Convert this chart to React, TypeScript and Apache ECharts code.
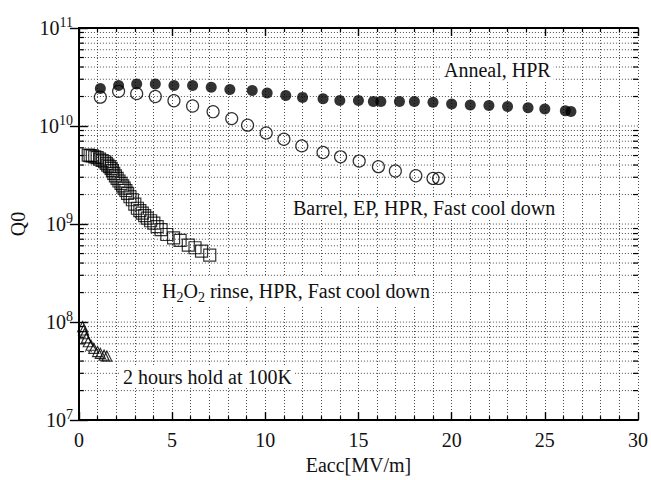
import React, { useEffect, useRef } from "react";
import * as echarts from "echarts";

const FONT = "Liberation Serif";

// Anneal, HPR (filled circles)
const annealX = [1.15, 2.13, 3.1, 4.1, 5.1, 6.1, 7.1, 8.1, 9.3, 10.1, 11.1, 12.0, 13.1, 14.0, 15.0, 15.8, 16.2, 17.2, 18.0, 19.0, 20.0, 21.0, 22.0, 23.0, 24.1, 25.0, 26.1, 26.4];
const annealQ = [2.41e10, 2.59e10, 2.69e10, 2.69e10, 2.59e10, 2.59e10, 2.49e10, 2.36e10, 2.30e10, 2.17e10, 2.05e10, 1.96e10, 1.90e10, 1.82e10, 1.82e10, 1.78e10, 1.78e10, 1.78e10, 1.78e10, 1.75e10, 1.68e10, 1.64e10, 1.62e10, 1.58e10, 1.54e10, 1.49e10, 1.43e10, 1.41e10];

// Barrel, EP, HPR, Fast cool down (open circles)
const barrelX = [1.15, 2.13, 3.1, 4.1, 5.1, 6.1, 7.2, 8.2, 9.05, 10.05, 11.0, 11.96, 13.1, 14.04, 15.04, 16.07, 16.98, 18.08, 19.0, 19.3];
const barrelQ = [1.97e10, 2.26e10, 2.14e10, 2.0e10, 1.81e10, 1.6e10, 1.4e10, 1.19e10, 1.02e10, 8.5e9, 7.33e9, 6.27e9, 5.37e9, 4.85e9, 4.39e9, 3.85e9, 3.48e9, 3.11e9, 2.92e9, 2.92e9];

// H2O2 rinse, HPR, Fast cool down (open squares)
const rinseX = [0.5, 0.6, 0.72, 0.85, 0.98, 1.11, 1.25, 1.38, 1.47, 1.55, 1.64, 1.73, 1.8, 1.87, 1.96, 2.05, 2.15, 2.26, 2.35, 2.43, 2.52, 2.61, 2.74, 2.87, 3.0, 3.14, 3.27, 3.4, 3.53, 3.67, 3.85, 4.02, 4.2, 4.41, 4.72, 5.08, 5.43, 5.87, 6.23, 6.58, 7.02];
const rinseQ = [5.05e9, 5.0e9, 4.95e9, 4.85e9, 4.75e9, 4.6e9, 4.45e9, 4.32e9, 4.15e9, 4.0e9, 3.85e9, 3.69e9, 3.5e9, 3.29e9, 3.1e9, 2.92e9, 2.75e9, 2.6e9, 2.45e9, 2.32e9, 2.2e9, 2.06e9, 1.9e9, 1.77e9, 1.6e9, 1.45e9, 1.37e9, 1.29e9, 1.22e9, 1.15e9, 1.08e9, 1.02e9, 9.4e8, 8.77e8, 7.82e8, 7.23e8, 6.8e8, 6.1e8, 5.73e8, 5.3e8, 4.83e8];

// 2 hours hold at 100K (open triangles)
const holdX = [0.2, 0.25, 0.3, 0.4, 0.5, 0.65, 0.8, 1.0, 1.15, 1.35, 1.5];
const holdQ = [9.0e7, 8.3e7, 7.6e7, 6.9e7, 6.3e7, 5.8e7, 5.4e7, 5.0e7, 4.8e7, 4.6e7, 4.5e7];

const yDecades = [7, 8, 9, 10];
const yMinorMult = [2, 3, 4, 5, 6, 7, 8, 9];

const zip = (xs: number[], ys: number[]) => xs.map((x, i) => [x, ys[i]]);

export default function App() {
  const ref = useRef<HTMLDivElement>(null);
  useEffect(() => {
    if (!ref.current) return;
    const chart = echarts.init(ref.current, null, { renderer: "svg" });
    const minorVals: number[][] = [];
    yDecades.forEach((d) => yMinorMult.forEach((m) => minorVals.push([0, m * Math.pow(10, d)])));
    const majorVals = [8, 9, 10].map((d) => [0, Math.pow(10, d)]);

    const gridLineStyle = { color: "#222", width: 0.8, type: [1, 2] as any };
    const axisLineStyle = { color: "#000", width: 1.8 };
    const textBase = { fontFamily: FONT, fontSize: 20, fill: "#111" };

    const hollow = (symbol: string, size: number) => ({
      type: "scatter" as const,
      symbol,
      symbolSize: size,
      itemStyle: { color: "rgba(255,255,255,0)", borderColor: "#000", borderWidth: 1.2 },
      z: 5,
    });

    chart.setOption({
      animation: false,
      backgroundColor: "#fff",
      grid: { left: 74, right: 10, top: 28, bottom: 58 },
      xAxis: [
        {
          type: "value",
          min: 0,
          max: 30,
          interval: 5,
          position: "bottom",
          name: "Eacc[MV/m]",
          nameLocation: "middle",
          nameGap: 34,
          nameTextStyle: { fontFamily: FONT, fontSize: 20, color: "#111" },
          axisLine: { lineStyle: axisLineStyle },
          axisTick: { inside: true, length: 8, lineStyle: { color: "#000", width: 1.4 } },
          minorTick: { show: true, splitNumber: 5, length: 4, lineStyle: { color: "#000", width: 1.2 } },
          splitLine: { show: true, lineStyle: gridLineStyle },
          minorSplitLine: { show: true, lineStyle: gridLineStyle },
          axisLabel: { fontFamily: FONT, fontSize: 20, color: "#111", margin: 10 },
        },
        {
          type: "value",
          min: 0,
          max: 30,
          interval: 5,
          position: "top",
          axisLine: { lineStyle: axisLineStyle },
          axisTick: { inside: true, length: 8, lineStyle: { color: "#000", width: 1.4 } },
          minorTick: { show: true, splitNumber: 5, length: 4, lineStyle: { color: "#000", width: 1.2 } },
          splitLine: { show: false },
          axisLabel: { show: false },
        },
      ],
      yAxis: [
        {
          type: "log",
          logBase: 10,
          min: 1e7,
          max: 1e11,
          position: "left",
          name: "Q0",
          nameLocation: "middle",
          nameGap: 46,
          nameRotate: 90,
          nameTextStyle: { fontFamily: FONT, fontSize: 20, color: "#111" },
          axisLine: { lineStyle: axisLineStyle },
          axisTick: { inside: true, length: 9, lineStyle: { color: "#000", width: 1.4 } },
          splitLine: { show: false },
          axisLabel: {
            margin: 6,
            formatter: (v: number) => `{b|10}{s|${Math.round(Math.log10(v))}}`,
            rich: {
              b: { fontFamily: FONT, fontSize: 20, color: "#111", lineHeight: 26 },
              s: { fontFamily: FONT, fontSize: 14, color: "#111", verticalAlign: "top", lineHeight: 14 },
            },
          },
        },
        {
          type: "log",
          logBase: 10,
          min: 1e7,
          max: 1e11,
          position: "right",
          axisLine: { lineStyle: axisLineStyle },
          axisTick: { inside: true, length: 9, lineStyle: { color: "#000", width: 1.4 } },
          splitLine: { show: false },
          axisLabel: { show: false },
        },
      ],
      series: [
        {
          type: "custom",
          xAxisIndex: 0,
          yAxisIndex: 0,
          silent: true,
          z: 1,
          data: minorVals.concat(majorVals),
          renderItem: (_p: any, api: any) => {
            const v = api.value(1);
            const a = api.coord([0, v]);
            const b = api.coord([30, v]);
            const isMajor = Math.abs(Math.log10(v) - Math.round(Math.log10(v))) < 1e-6;
            const children: any[] = [
              { type: "line", shape: { x1: a[0], y1: a[1], x2: b[0], y2: a[1] }, style: { stroke: "#222", lineWidth: 0.8, lineDash: [1, 2] } },
            ];
            if (!isMajor) {
              children.push({ type: "line", shape: { x1: a[0], y1: a[1], x2: a[0] + 5, y2: a[1] }, style: { stroke: "#000", lineWidth: 1.2 } });
              children.push({ type: "line", shape: { x1: b[0] - 5, y1: b[1], x2: b[0], y2: b[1] }, style: { stroke: "#000", lineWidth: 1.2 } });
            }
            return { type: "group", children };
          },
        },
        {
          type: "scatter",
          name: "Anneal, HPR",
          symbol: "circle",
          symbolSize: 11,
          itemStyle: { color: "#000" },
          z: 5,
          data: zip(annealX, annealQ),
        },
        { ...hollow("circle", 12), name: "Barrel, EP, HPR, Fast cool down", data: zip(barrelX, barrelQ) },
        { ...hollow("rect", 12), name: "H2O2 rinse, HPR, Fast cool down", data: zip(rinseX, rinseQ) },
        { ...hollow("triangle", 10), name: "2 hours hold at 100K", data: zip(holdX, holdQ) },
      ],
      graphic: [
        {
          type: "text", x: 441, y: 70, z: 10,
          style: { ...textBase, text: "Anneal, HPR", verticalAlign: "middle", align: "left", backgroundColor: "#fff", padding: [1, 3] },
        },
        {
          type: "text", x: 290, y: 208, z: 10,
          style: { ...textBase, text: "Barrel, EP, HPR, Fast cool down", verticalAlign: "middle", align: "left", backgroundColor: "#fff", padding: [1, 3] },
        },
        {
          type: "text", x: 159, y: 291, z: 10,
          style: {
            text: "{n|H}{sub|2}{n|O}{sub|2}{n| rinse, HPR, Fast cool down}",
            verticalAlign: "middle", align: "left", backgroundColor: "#fff", padding: [1, 3],
            rich: {
              n: { fontFamily: FONT, fontSize: 20, fill: "#111", lineHeight: 26 },
              sub: { fontFamily: FONT, fontSize: 14, fill: "#111", verticalAlign: "bottom", lineHeight: 14 },
            },
          },
        },
        {
          type: "text", x: 120, y: 377, z: 10,
          style: { ...textBase, text: "2 hours hold at 100K", verticalAlign: "middle", align: "left", backgroundColor: "#fff", padding: [1, 3] },
        },
      ],
    });
    return () => chart.dispose();
  }, []);
  return <div ref={ref} style={{ position: "fixed", left: 0, top: 0, width: 651, height: 480, background: "#fff" }} />;
}
